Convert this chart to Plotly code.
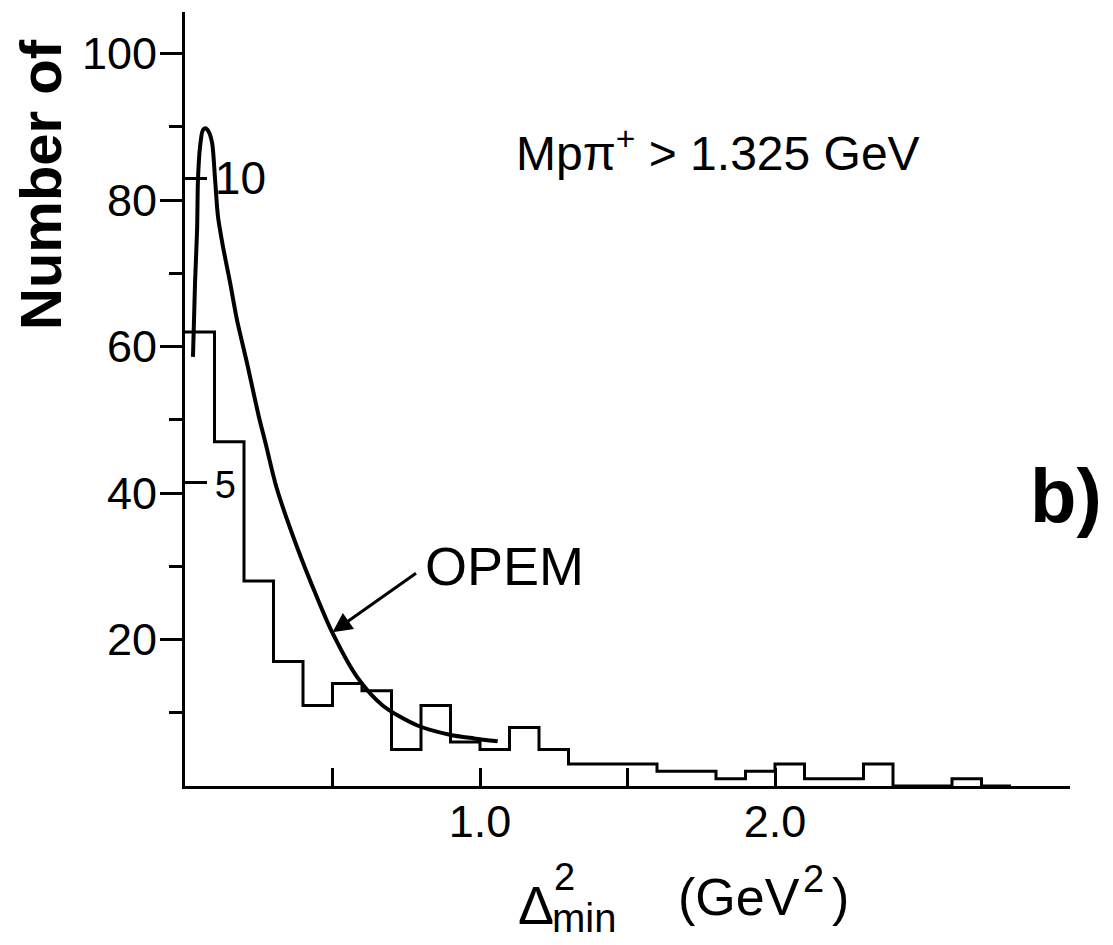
import plotly.graph_objects as go

# ---- data ----
bin_edges = [0.0, 0.1, 0.2, 0.3, 0.4, 0.5, 0.6, 0.7, 0.8, 0.9, 1.0, 1.1, 1.2, 1.3,
             1.4, 1.5, 1.6, 1.7, 1.8, 1.9, 2.0, 2.1, 2.2, 2.3, 2.4, 2.5, 2.6, 2.7, 2.8]
counts = [62, 47, 28, 17, 11, 14, 13, 5, 11, 6, 5, 8, 5, 3,
          3, 3, 2, 2, 1, 2, 3, 1, 1, 3, 0, 0, 1, 0]

opem_x = [0.027, 0.034, 0.041, 0.044, 0.051, 0.061, 0.071, 0.081, 0.092, 0.102,
          0.112, 0.129, 0.153, 0.176, 0.210, 0.250, 0.275, 0.310, 0.380, 0.447,
          0.500, 0.583, 0.670, 0.786, 0.898, 0.980, 1.060]
opem_y = [58.6, 68.7, 76.0, 82.8, 87.3, 89.6, 89.8, 89.3, 87.8, 82.8,
          77.7, 73.6, 68.7, 63.7, 57.8, 50.5, 46.5, 40.8, 32.6, 25.8,
          20.9, 14.9, 11.0, 8.3, 7.0, 6.5, 6.1]

y_major_ticks = [20, 40, 60, 80, 100]
y_minor_ticks = [10, 30, 50, 70, 90]
x_ticks = [0.5, 1.0, 1.5, 2.0]
x_ticklabels = ["", "1.0", "", "2.0"]
aux_scale_ticks = [5, 10]
aux_scale_labels = ["<span style='font-size:38px'>5</span>", "10"]
aux_scale_factor = 8.3   # counts per unit of the auxiliary scale

SANS = "Liberation Sans, Arial, sans-serif"

step_y = counts + [counts[-1]]

fig = go.Figure()
fig.add_trace(go.Scatter(x=bin_edges, y=step_y, mode="lines",
                         line=dict(color="black", width=3, shape="hv"),
                         hoverinfo="skip"))
fig.add_trace(go.Scatter(x=opem_x, y=opem_y, mode="lines",
                         line=dict(color="black", width=4, shape="spline", smoothing=0.8),
                         hoverinfo="skip"))
# invisible trace on the auxiliary scale so the axis is drawn
fig.add_trace(go.Scatter(x=[None], y=[None], yaxis="y2", mode="lines", hoverinfo="skip"))

y_top = 105.7
fig.update_layout(
    width=1113, height=945,
    margin=dict(l=185, r=43, t=12, b=159, pad=0),
    paper_bgcolor="white", plot_bgcolor="white",
    showlegend=False,
    xaxis=dict(range=[0, 3.0], showgrid=False, zeroline=False,
               showline=True, linecolor="black", linewidth=3,
               ticks="inside", ticklen=18, tickwidth=2.5, tickcolor="black",
               tickvals=x_ticks, ticktext=x_ticklabels, ticklabelstandoff=-6,
               tickfont=dict(family=SANS, size=45, color="black")),
    yaxis=dict(range=[0, y_top], showgrid=False, zeroline=False,
               showline=True, linecolor="black", linewidth=3,
               ticks="outside", ticklen=22, tickwidth=2.5, tickcolor="black",
               tickvals=y_major_ticks, ticklabelstandoff=-6,
               tickfont=dict(family=SANS, size=45, color="black"),
               minor=dict(tickmode="array", tickvals=y_minor_ticks, ticks="outside",
                          ticklen=13, tickwidth=2.5, tickcolor="black")),
    yaxis2=dict(overlaying="y", anchor="x", side="left",
                range=[0, y_top / aux_scale_factor], showgrid=False, zeroline=False,
                showline=False, ticks="inside", ticklen=22, tickwidth=2.5,
                tickcolor="black", ticklabelposition="inside",
                ticklabelstandoff=14,
                tickvals=aux_scale_ticks, ticktext=aux_scale_labels,
                tickfont=dict(family=SANS, size=46, color="black")),
)

def px_x(p):
    return (p - 185) / 885.0

def px_y(p):
    return (786 - p) / 774.0

def label(text, x, y, size, angle=0):
    return dict(text=text, textangle=angle, x=px_x(x), y=px_y(y),
                xref="paper", yref="paper", xanchor="center", yanchor="middle",
                showarrow=False, font=dict(family=SANS, size=size, color="black"))

ann = [
    label("<b>Number of</b>", 40, 185, 58, angle=-90),
    label("Mpπ<sup>+</sup> > 1.325 GeV", 718, 150, 48),
    label("OPEM", 504, 566, 54),
    label("<b>b)</b>", 1066, 495, 76),
    label("Δ", 536, 905, 54),
    label("2", 564, 877, 38),
    label("min", 584, 918, 40),
    label("(GeV", 739, 897, 52),
    label("2", 813, 879, 38),
    label(")", 840, 897, 52),
    dict(text="", x=0.5, y=21, xref="x", yref="y", showarrow=True,
         ax=85, ay=-60, arrowhead=2, arrowsize=1.3, arrowwidth=3,
         arrowcolor="black"),
]
fig.update_layout(annotations=ann)

fig.write_html("out.html")
